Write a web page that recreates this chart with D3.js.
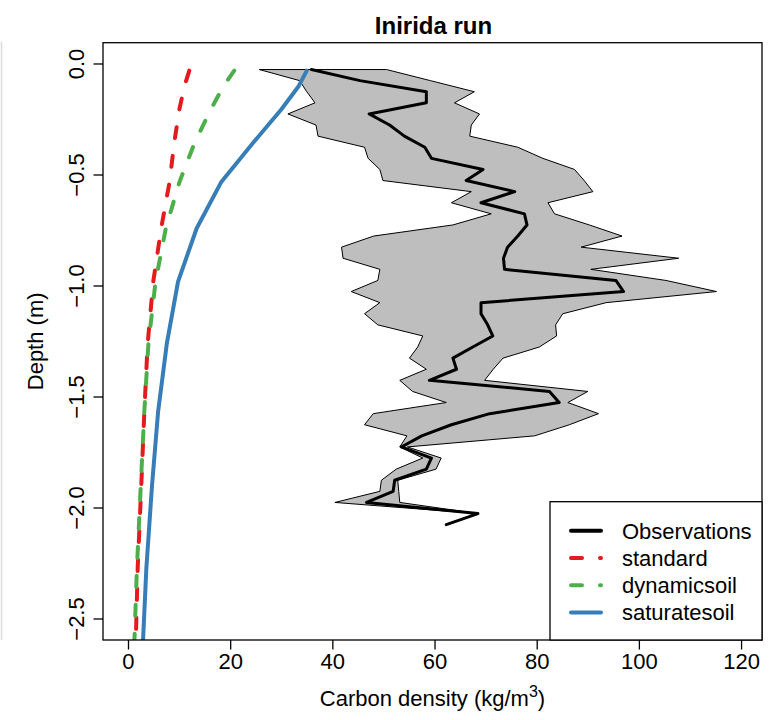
<!DOCTYPE html>
<html>
<head>
<meta charset="utf-8">
<script src="https://cdn.jsdelivr.net/npm/d3@7"></script>
<style>
    body { margin: 0; background: #fff; }
    svg text { font-family: "Liberation Sans", Arial, Helvetica, sans-serif; fill: #000; }
</style>
</head>
<body>
<svg id="chart" width="773" height="720"></svg>
<script>
// Observation depths (m) and carbon density (kg/m3): mean, min and max
var obsDepth = [-0.025, -0.075, -0.125, -0.175, -0.225, -0.275, -0.325, -0.375, -0.425, -0.475,
    -0.525, -0.575, -0.625, -0.675, -0.725, -0.775, -0.825, -0.875, -0.925, -0.975,
    -1.025, -1.075, -1.125, -1.175, -1.225, -1.275, -1.325, -1.375, -1.425, -1.475,
    -1.525, -1.575, -1.625, -1.675, -1.725, -1.775, -1.825, -1.875, -1.925, -1.975,
    -2.025, -2.075];
var obsMean = [35.8, 45.3, 58.3, 58.3, 47.1, 51.1, 54.0, 58.0, 59.3, 69.4,
    66.1, 75.6, 69.0, 77.5, 78.0, 76.2, 74.2, 73.4, 73.6, 95.4,
    96.9, 69.0, 69.0, 70.3, 71.3, 67.4, 63.5, 64.2, 58.9, 82.4,
    84.3, 70.7, 63.2, 57.4, 53.4, 59.3, 58.3, 52.1, 51.8, 46.6,
    68.4, 62.2];
var obsMin = [25.6, 33.5, 34.9, 36.5, 31.2, 36.7, 37.1, 46.2, 46.9, 49.2,
    49.8, 67.1, 63.2, 71.0, 63.5, 48.0, 41.7, 42.0, 49.2, 48.8,
    43.6, 49.2, 46.2, 48.8, 57.6, 56.6, 55.0, 58.3, 53.1, 55.6,
    62.2, 47.9, 46.2, 54.5, 53.1, 57.6, 52.4, 49.5, 49.2, 40.4,
    68.4, 62.2];
var obsMax = [50.5, 59.1, 67.7, 63.8, 68.7, 67.1, 66.8, 76.2, 81.1, 87.3,
    89.2, 90.9, 82.1, 83.4, 90.2, 96.6, 88.6, 107.7, 90.5, 105.2,
    115.1, 93.5, 85.0, 83.6, 83.8, 80.4, 73.3, 71.4, 69.7, 89.9,
    86.0, 92.0, 86.3, 79.5, 54.6, 61.2, 60.2, 52.7, 52.9, 53.1,
    68.4, 62.2];

// Model soil layer depths (m) and simulated carbon density per run
var modelDepth = [-0.03, -0.10, -0.205, -0.355, -0.53, -0.74, -0.98, -1.26, -1.565, -1.90, -2.27, -2.67];
var standard = [11.9, 10.95, 9.95, 8.95, 8.05, 6.4, 4.85, 3.75, 3.1, 2.5, 1.8, 1.35];
var dynamicsoil = [20.7, 18.6, 16.1, 12.95, 10.0, 7.3, 5.3, 3.9, 3.1, 2.4, 1.65, 1.05];
var saturatesoil = [34.9, 33.3, 29.9, 24.4, 18.2, 13.35, 9.7, 7.5, 5.8, 4.6, 3.5, 2.7];

// Axis ticks and legend
var xTicks = [0, 20, 40, 60, 80, 100, 120];
var yTicks = [0.0, -0.5, -1.0, -1.5, -2.0, -2.5];
var legendNames = ["Observations", "standard", "dynamicsoil", "saturatesoil"];
var legendColors = ["#000000", "#E41A1C", "#4DAF4A", "#377EB8"];

function drawChart() {
    var svg = d3.select("#chart");

    // plot region in pixels
    var box = {"left": 103, "right": 762, "top": 42.7, "bottom": 640};

    var x = d3.scaleLinear().domain([-4.99, 124.0]).range([box.left, box.right]);
    var y = d3.scaleLinear().domain([0.0959, -2.5946]).range([box.top, box.bottom]);

    // faint edge line at the far left
    svg.append("line")
        .attr("x1", 1.5).attr("x2", 1.5)
        .attr("y1", 42).attr("y2", 640)
        .attr("stroke", "#dcdcdc")
        .attr("stroke-width", 1.5);

    svg.append("defs").append("clipPath").attr("id", "clip")
        .append("rect")
        .attr("x", box.left).attr("y", box.top)
        .attr("width", box.right - box.left).attr("height", box.bottom - box.top);

    var plot = svg.append("g").attr("clip-path", "url(#clip)");

    // observation range polygon
    var obsRows = obsDepth.map(function(d, i) {
        return {depth: d, mean: obsMean[i], min: obsMin[i], max: obsMax[i]};
    });
    var band = d3.area()
        .y(d => y(d.depth))
        .x0(d => x(d.min))
        .x1(d => x(d.max));

    plot.append("path")
        .datum(obsRows)
        .attr("d", band)
        .attr("fill", "#BEBEBE")
        .attr("stroke", "#000")
        .attr("stroke-width", 1);

    // observation mean line
    var obsLine = d3.line()
        .x(d => x(d.mean))
        .y(d => y(d.depth));

    plot.append("path")
        .datum(obsRows)
        .attr("d", obsLine)
        .attr("fill", "none")
        .attr("stroke", "#000")
        .attr("stroke-width", 3)
        .attr("stroke-linejoin", "round")
        .attr("stroke-linecap", "round");

    // model lines
    var models = [
        {values: standard, color: legendColors[1], dash: "11 18"},
        {values: dynamicsoil, color: legendColors[2], dash: "11 18"},
        {values: saturatesoil, color: legendColors[3], dash: null}
    ];

    var modelLine = d3.line()
        .x(d => x(d[1]))
        .y(d => y(d[0]));

    models.forEach(function(m) {
        plot.append("path")
            .datum(modelDepth.map((d, i) => [d, m.values[i]]))
            .attr("d", modelLine)
            .attr("fill", "none")
            .attr("stroke", m.color)
            .attr("stroke-width", 4)
            .attr("stroke-linejoin", "round")
            .attr("stroke-linecap", "round")
            .attr("stroke-dasharray", m.dash);
    });

    // box around plot
    svg.append("rect")
        .attr("x", box.left).attr("y", box.top)
        .attr("width", box.right - box.left).attr("height", box.bottom - box.top)
        .attr("fill", "none")
        .attr("stroke", "#000")
        .attr("stroke-width", 1.3);

    // x axis
    var fmtX = d3.format("d");
    var gx = svg.append("g").attr("transform", "translate(0," + box.bottom + ")");
    gx.selectAll("line").data(xTicks).enter().append("line")
        .attr("x1", d => x(d)).attr("x2", d => x(d))
        .attr("y1", 0).attr("y2", 9.5)
        .attr("stroke", "#000").attr("stroke-width", 1.3);
    gx.selectAll("text").data(xTicks).enter().append("text")
        .attr("x", d => x(d)).attr("y", 29)
        .attr("text-anchor", "middle")
        .style("font-size", "22px")
        .text(d => fmtX(d));

    // y axis
    var fmtY = d3.format(".1f");
    var gy = svg.append("g").attr("transform", "translate(" + box.left + ",0)");
    gy.selectAll("line").data(yTicks).enter().append("line")
        .attr("x1", 0).attr("x2", -9.5)
        .attr("y1", d => y(d)).attr("y2", d => y(d))
        .attr("stroke", "#000").attr("stroke-width", 1.3);
    gy.selectAll("text").data(yTicks).enter().append("text")
        .attr("transform", d => "translate(-19," + y(d) + ") rotate(-90)")
        .attr("text-anchor", "middle")
        .style("font-size", "22px")
        .text(d => fmtY(d).replace("-", "\u2212"));

    // titles
    svg.append("text")
        .attr("x", (box.left + box.right) / 2 + 1).attr("y", 34)
        .attr("text-anchor", "middle")
        .style("font-size", "24px")
        .style("font-weight", "bold")
        .text("Inirida run");

    var xLab = svg.append("text")
        .attr("x", (box.left + box.right) / 2).attr("y", 706)
        .attr("text-anchor", "middle")
        .style("font-size", "22px");
    xLab.append("tspan").text("Carbon density (kg/m");
    xLab.append("tspan").attr("dy", -9).style("font-size", "16px").text("3");
    xLab.append("tspan").attr("dy", 9).text(")");

    svg.append("text")
        .attr("transform", "translate(43," + ((box.top + box.bottom) / 2) + ") rotate(-90)")
        .attr("text-anchor", "middle")
        .style("font-size", "22px")
        .text("Depth (m)");

    // legend
    var lg = svg.append("g");
    lg.append("rect")
        .attr("x", 550).attr("y", 501.7)
        .attr("width", box.right - 550).attr("height", box.bottom - 501.7)
        .attr("fill", "#fff")
        .attr("stroke", "#000")
        .attr("stroke-width", 1.3);

    var dashes = [null, "11 18", "11 18", null];
    legendNames.forEach(function(name, i) {
        var ly = 530.7 + i * 27.3;
        lg.append("line")
            .attr("x1", 571).attr("x2", 601)
            .attr("y1", ly).attr("y2", ly)
            .attr("stroke", legendColors[i])
            .attr("stroke-width", 4)
            .attr("stroke-linecap", "round")
            .attr("stroke-dasharray", dashes[i]);
        lg.append("text")
            .attr("x", 622).attr("y", ly + 7.8)
            .style("font-size", "22px")
            .text(name);
    });
}

drawChart();
</script>
</body>
</html>
